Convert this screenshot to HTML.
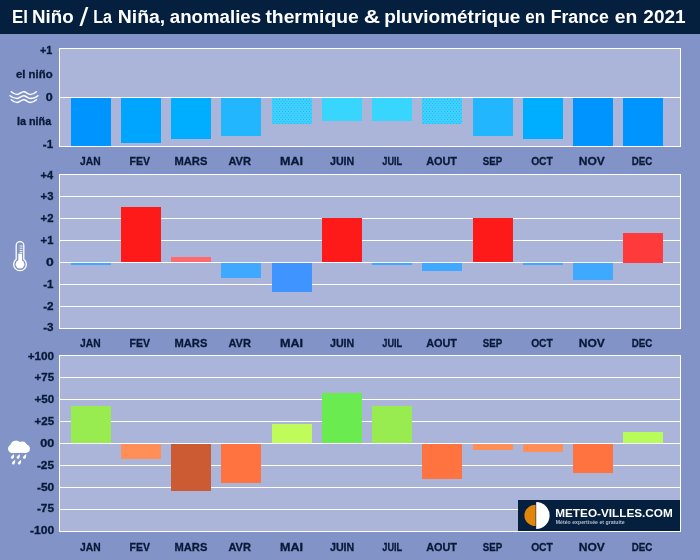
<!DOCTYPE html>
<html lang="fr"><head><meta charset="utf-8"><title>El Niño / La Niña 2021</title>
<style>html,body{margin:0;padding:0;background:#8294c7;overflow:hidden}svg{display:block}text{font-family:"Liberation Sans", sans-serif;font-weight:700}.l{stroke:#081a38;stroke-width:.3px}</style>
</head><body>
<svg width="700" height="560" viewBox="0 0 700 560">
<defs><pattern id="dots" x="272" y="98" width="3" height="4" patternUnits="userSpaceOnUse"><rect width="3" height="4" fill="#3bd4ff"/><circle cx="1.5" cy="1.5" r="0.5" fill="#3d84ee" fill-opacity=".7"/><circle cx="3" cy="3.5" r="0.5" fill="#3d84ee" fill-opacity=".7"/><circle cx="0" cy="3.5" r="0.5" fill="#3d84ee" fill-opacity=".7"/></pattern></defs>
<rect width="700" height="560" fill="#8294c7"/>
<rect width="700" height="34" fill="#05203f"/>
<g>
<text x="11.90" y="22.60" font-size="18.75" fill="#fff" textLength="15.98" lengthAdjust="spacingAndGlyphs">El</text>
<text x="32.08" y="22.60" font-size="18.75" fill="#fff" textLength="41.65" lengthAdjust="spacingAndGlyphs">Niño</text>
<text x="79.50" y="26.00" font-size="25.4" fill="#fff" textLength="8.83" lengthAdjust="spacingAndGlyphs" style="font-weight:400">/</text>
<text x="93.26" y="22.60" font-size="18.75" fill="#fff" textLength="18.76" lengthAdjust="spacingAndGlyphs">La</text>
<text x="117.74" y="22.60" font-size="18.75" fill="#fff" textLength="47.42" lengthAdjust="spacingAndGlyphs">Niña,</text>
<text x="169.79" y="22.60" font-size="18.75" fill="#fff" textLength="91.34" lengthAdjust="spacingAndGlyphs">anomalies</text>
<text x="265.41" y="22.60" font-size="18.75" fill="#fff" textLength="93.35" lengthAdjust="spacingAndGlyphs">thermique</text>
<text x="363.74" y="22.60" font-size="18.75" fill="#fff" textLength="16.33" lengthAdjust="spacingAndGlyphs">&amp;</text>
<text x="384.16" y="22.60" font-size="18.75" fill="#fff" textLength="136.26" lengthAdjust="spacingAndGlyphs">pluviométrique</text>
<text x="525.36" y="22.60" font-size="18.75" fill="#fff" textLength="19.90" lengthAdjust="spacingAndGlyphs">en</text>
<text x="550.65" y="22.60" font-size="18.75" fill="#fff" textLength="58.16" lengthAdjust="spacingAndGlyphs">France</text>
<text x="614.68" y="22.60" font-size="18.75" fill="#fff" textLength="22.52" lengthAdjust="spacingAndGlyphs">en</text>
<text x="643.38" y="22.60" font-size="18.75" fill="#fff" textLength="42.23" lengthAdjust="spacingAndGlyphs">2021</text>
</g>
<rect x="59.5" y="48.5" width="621" height="98" fill="#aab5d9" stroke="#fff" stroke-width="1"/>
<rect x="71" y="98" width="40" height="48" fill="#0094ff"/>
<rect x="121" y="98" width="40" height="45" fill="#00a5ff"/>
<rect x="171" y="98" width="40" height="41" fill="#00aeff"/>
<rect x="221" y="98" width="40" height="38" fill="#22b6ff"/>
<rect x="272" y="98" width="40" height="26" fill="url(#dots)"/>
<rect x="322" y="98" width="40" height="23" fill="#38d5ff"/>
<rect x="372" y="98" width="40" height="23" fill="#38d5ff"/>
<rect x="422" y="98" width="40" height="26" fill="url(#dots)"/>
<rect x="473" y="98" width="40" height="38" fill="#22b6ff"/>
<rect x="523" y="98" width="40" height="41" fill="#00aeff"/>
<rect x="573" y="98" width="40" height="48" fill="#0094ff"/>
<rect x="623" y="98" width="40" height="48" fill="#0094ff"/>
<rect x="60" y="97" width="620" height="1" fill="#fff"/>
<rect x="59.5" y="48.5" width="621" height="98" fill="none" stroke="#fff" stroke-width="1"/>
<text x="80.00" y="165.00" font-size="11.3" fill="#081a38" textLength="20.55" lengthAdjust="spacingAndGlyphs" class="l">JAN</text>
<text x="129.47" y="165.00" font-size="11.3" fill="#081a38" textLength="20.43" lengthAdjust="spacingAndGlyphs" class="l">FEV</text>
<text x="174.53" y="165.00" font-size="11.3" fill="#081a38" textLength="32.84" lengthAdjust="spacingAndGlyphs" class="l">MARS</text>
<text x="228.47" y="165.00" font-size="11.3" fill="#081a38" textLength="22.49" lengthAdjust="spacingAndGlyphs" class="l">AVR</text>
<text x="279.93" y="165.00" font-size="11.3" fill="#081a38" textLength="23.04" lengthAdjust="spacingAndGlyphs" class="l">MAI</text>
<text x="329.99" y="165.00" font-size="11.3" fill="#081a38" textLength="24.29" lengthAdjust="spacingAndGlyphs" class="l">JUIN</text>
<text x="382.31" y="165.00" font-size="11.3" fill="#081a38" textLength="19.81" lengthAdjust="spacingAndGlyphs" class="l">JUIL</text>
<text x="426.18" y="165.00" font-size="11.3" fill="#081a38" textLength="30.86" lengthAdjust="spacingAndGlyphs" class="l">AOUT</text>
<text x="482.78" y="165.00" font-size="11.3" fill="#081a38" textLength="19.37" lengthAdjust="spacingAndGlyphs" class="l">SEP</text>
<text x="531.14" y="165.00" font-size="11.3" fill="#081a38" textLength="21.70" lengthAdjust="spacingAndGlyphs" class="l">OCT</text>
<text x="578.77" y="165.00" font-size="11.3" fill="#081a38" textLength="26.04" lengthAdjust="spacingAndGlyphs" class="l">NOV</text>
<text x="631.82" y="165.00" font-size="11.3" fill="#081a38" textLength="20.59" lengthAdjust="spacingAndGlyphs" class="l">DEC</text>
<text x="39.91" y="54.00" font-size="10.6" fill="#081a38" textLength="12.41" lengthAdjust="spacingAndGlyphs" class="l">+1</text>
<text x="16.02" y="78.00" font-size="10.6" fill="#081a38" textLength="36.55" lengthAdjust="spacingAndGlyphs" class="l">el niño</text>
<text x="45.88" y="101.00" font-size="10.6" fill="#081a38" textLength="6.95" lengthAdjust="spacingAndGlyphs" class="l">0</text>
<text x="16.92" y="125.00" font-size="10.6" fill="#081a38" textLength="34.35" lengthAdjust="spacingAndGlyphs" class="l">la niña</text>
<text x="42.82" y="148.00" font-size="10.6" fill="#081a38" textLength="10.24" lengthAdjust="spacingAndGlyphs" class="l">-1</text>
<path d="M11.3 91.7 C13.3 93.5 15 94.4 17.3 94.4 S21 91.8 23.7 91.8 S27.5 94.4 30.2 94.4 S34.4 93.5 36.4 91.7" fill="none" stroke="#fff" stroke-width="1.5" stroke-linecap="round"/>
<path d="M10.1 95.7 C12.1 97.5 15 98.4 17.3 98.4 S21 95.8 23.7 95.8 S27.5 98.4 30.2 98.4 S35.9 97.5 37.9 95.7" fill="none" stroke="#fff" stroke-width="1.5" stroke-linecap="round"/>
<path d="M11.3 99.7 C13.3 101.5 15 102.4 17.3 102.4 S21 99.8 23.7 99.8 S27.5 102.4 30.2 102.4 S34.4 101.5 36.4 99.7" fill="none" stroke="#fff" stroke-width="1.5" stroke-linecap="round"/>
<rect x="59.5" y="174.5" width="621" height="154" fill="#aab5d9" stroke="#fff" stroke-width="1"/>
<rect x="60" y="196" width="620" height="1" fill="#fff"/>
<rect x="60" y="218" width="620" height="1" fill="#fff"/>
<rect x="60" y="240" width="620" height="1" fill="#fff"/>
<rect x="60" y="262" width="620" height="1" fill="#fff"/>
<rect x="60" y="284" width="620" height="1" fill="#fff"/>
<rect x="60" y="306" width="620" height="1" fill="#fff"/>
<rect x="71" y="263" width="40" height="2" fill="#3fa9ff"/>
<rect x="121" y="207" width="40" height="55" fill="#ff1a1a"/>
<rect x="171" y="257" width="40" height="5" fill="#ff6b6b"/>
<rect x="221" y="263" width="40" height="15" fill="#3fa9ff"/>
<rect x="272" y="263" width="40" height="29" fill="#3f94ff"/>
<rect x="322" y="218" width="40" height="44" fill="#ff1a1a"/>
<rect x="372" y="263" width="40" height="2" fill="#3fa9ff"/>
<rect x="422" y="263" width="40" height="8" fill="#3fa9ff"/>
<rect x="473" y="218" width="40" height="44" fill="#ff1a1a"/>
<rect x="523" y="263" width="40" height="2" fill="#3fa9ff"/>
<rect x="573" y="263" width="40" height="17" fill="#3fa9ff"/>
<rect x="623" y="233" width="40" height="30" fill="#ff3a3a"/>
<text x="80.00" y="347.00" font-size="11.3" fill="#081a38" textLength="20.55" lengthAdjust="spacingAndGlyphs" class="l">JAN</text>
<text x="129.47" y="347.00" font-size="11.3" fill="#081a38" textLength="20.43" lengthAdjust="spacingAndGlyphs" class="l">FEV</text>
<text x="174.53" y="347.00" font-size="11.3" fill="#081a38" textLength="32.84" lengthAdjust="spacingAndGlyphs" class="l">MARS</text>
<text x="228.47" y="347.00" font-size="11.3" fill="#081a38" textLength="22.49" lengthAdjust="spacingAndGlyphs" class="l">AVR</text>
<text x="279.93" y="347.00" font-size="11.3" fill="#081a38" textLength="23.04" lengthAdjust="spacingAndGlyphs" class="l">MAI</text>
<text x="329.99" y="347.00" font-size="11.3" fill="#081a38" textLength="24.29" lengthAdjust="spacingAndGlyphs" class="l">JUIN</text>
<text x="382.31" y="347.00" font-size="11.3" fill="#081a38" textLength="19.81" lengthAdjust="spacingAndGlyphs" class="l">JUIL</text>
<text x="426.18" y="347.00" font-size="11.3" fill="#081a38" textLength="30.86" lengthAdjust="spacingAndGlyphs" class="l">AOUT</text>
<text x="482.78" y="347.00" font-size="11.3" fill="#081a38" textLength="19.37" lengthAdjust="spacingAndGlyphs" class="l">SEP</text>
<text x="531.14" y="347.00" font-size="11.3" fill="#081a38" textLength="21.70" lengthAdjust="spacingAndGlyphs" class="l">OCT</text>
<text x="578.77" y="347.00" font-size="11.3" fill="#081a38" textLength="26.04" lengthAdjust="spacingAndGlyphs" class="l">NOV</text>
<text x="631.82" y="347.00" font-size="11.3" fill="#081a38" textLength="20.59" lengthAdjust="spacingAndGlyphs" class="l">DEC</text>
<text x="40.61" y="179.00" font-size="10.6" fill="#081a38" textLength="12.57" lengthAdjust="spacingAndGlyphs" class="l">+4</text>
<text x="40.60" y="200.00" font-size="10.6" fill="#081a38" textLength="12.92" lengthAdjust="spacingAndGlyphs" class="l">+3</text>
<text x="40.59" y="222.00" font-size="10.6" fill="#081a38" textLength="12.98" lengthAdjust="spacingAndGlyphs" class="l">+2</text>
<text x="40.60" y="244.00" font-size="10.6" fill="#081a38" textLength="12.83" lengthAdjust="spacingAndGlyphs" class="l">+1</text>
<text x="45.93" y="266.00" font-size="10.6" fill="#081a38" textLength="7.76" lengthAdjust="spacingAndGlyphs" class="l">0</text>
<text x="43.22" y="288.00" font-size="10.6" fill="#081a38" textLength="10.24" lengthAdjust="spacingAndGlyphs" class="l">-1</text>
<text x="43.21" y="310.00" font-size="10.6" fill="#081a38" textLength="10.40" lengthAdjust="spacingAndGlyphs" class="l">-2</text>
<text x="43.21" y="331.00" font-size="10.6" fill="#081a38" textLength="10.33" lengthAdjust="spacingAndGlyphs" class="l">-3</text>
<path d="M16.2 259.3 V245.4 a3.8 3.8 0 0 1 7.6 0 V259.3 a6.3 6.3 0 1 1 -7.6 0z" fill="none" stroke="#fff" stroke-width="1.3"/>
<circle cx="20" cy="264.3" r="4.3" fill="#fff"/><rect x="18.3" y="253.6" width="3.8" height="9" fill="#fff"/>
<path d="M19.6 246h2.9 M19.6 248.2h2.9 M19.6 250.4h2.9 M19.6 252.4h2.9" stroke="#fff" stroke-width="0.9"/>
<rect x="59.5" y="355.5" width="621" height="176" fill="#aab5d9" stroke="#fff" stroke-width="1"/>
<rect x="60" y="377" width="620" height="1" fill="#fff"/>
<rect x="60" y="399" width="620" height="1" fill="#fff"/>
<rect x="60" y="421" width="620" height="1" fill="#fff"/>
<rect x="60" y="443" width="620" height="1" fill="#fff"/>
<rect x="60" y="465" width="620" height="1" fill="#fff"/>
<rect x="60" y="487" width="620" height="1" fill="#fff"/>
<rect x="60" y="509" width="620" height="1" fill="#fff"/>
<rect x="71" y="406" width="40" height="37" fill="#99ec4f"/>
<rect x="121" y="444" width="40" height="15" fill="#ff8f57"/>
<rect x="171" y="444" width="40" height="47" fill="#cc5a33"/>
<rect x="221" y="444" width="40" height="39" fill="#ff7340"/>
<rect x="272" y="424" width="40" height="19" fill="#bffc59"/>
<rect x="322" y="393" width="40" height="50" fill="#6aec50"/>
<rect x="372" y="406" width="40" height="37" fill="#99ec4f"/>
<rect x="422" y="444" width="40" height="35" fill="#ff7340"/>
<rect x="473" y="444" width="40" height="6" fill="#ff8f57"/>
<rect x="523" y="444" width="40" height="8" fill="#ff8f57"/>
<rect x="573" y="444" width="40" height="29" fill="#ff7340"/>
<rect x="623" y="432" width="40" height="11" fill="#b8fc59"/>
<text x="80.00" y="551.00" font-size="11.3" fill="#081a38" textLength="20.55" lengthAdjust="spacingAndGlyphs" class="l">JAN</text>
<text x="129.47" y="551.00" font-size="11.3" fill="#081a38" textLength="20.43" lengthAdjust="spacingAndGlyphs" class="l">FEV</text>
<text x="174.53" y="551.00" font-size="11.3" fill="#081a38" textLength="32.84" lengthAdjust="spacingAndGlyphs" class="l">MARS</text>
<text x="228.47" y="551.00" font-size="11.3" fill="#081a38" textLength="22.49" lengthAdjust="spacingAndGlyphs" class="l">AVR</text>
<text x="279.93" y="551.00" font-size="11.3" fill="#081a38" textLength="23.04" lengthAdjust="spacingAndGlyphs" class="l">MAI</text>
<text x="329.99" y="551.00" font-size="11.3" fill="#081a38" textLength="24.29" lengthAdjust="spacingAndGlyphs" class="l">JUIN</text>
<text x="382.31" y="551.00" font-size="11.3" fill="#081a38" textLength="19.81" lengthAdjust="spacingAndGlyphs" class="l">JUIL</text>
<text x="426.18" y="551.00" font-size="11.3" fill="#081a38" textLength="30.86" lengthAdjust="spacingAndGlyphs" class="l">AOUT</text>
<text x="482.78" y="551.00" font-size="11.3" fill="#081a38" textLength="19.37" lengthAdjust="spacingAndGlyphs" class="l">SEP</text>
<text x="531.14" y="551.00" font-size="11.3" fill="#081a38" textLength="21.70" lengthAdjust="spacingAndGlyphs" class="l">OCT</text>
<text x="578.77" y="551.00" font-size="11.3" fill="#081a38" textLength="26.04" lengthAdjust="spacingAndGlyphs" class="l">NOV</text>
<text x="631.82" y="551.00" font-size="11.3" fill="#081a38" textLength="20.59" lengthAdjust="spacingAndGlyphs" class="l">DEC</text>
<text x="27.68" y="360.00" font-size="10.6" fill="#081a38" textLength="26.51" lengthAdjust="spacingAndGlyphs" class="l">+100</text>
<text x="34.49" y="381.00" font-size="10.6" fill="#081a38" textLength="19.57" lengthAdjust="spacingAndGlyphs" class="l">+75</text>
<text x="34.49" y="403.00" font-size="10.6" fill="#081a38" textLength="19.72" lengthAdjust="spacingAndGlyphs" class="l">+50</text>
<text x="34.49" y="425.00" font-size="10.6" fill="#081a38" textLength="19.57" lengthAdjust="spacingAndGlyphs" class="l">+25</text>
<text x="40.18" y="447.00" font-size="10.6" fill="#081a38" textLength="14.08" lengthAdjust="spacingAndGlyphs" class="l">00</text>
<text x="36.91" y="469.00" font-size="10.6" fill="#081a38" textLength="17.15" lengthAdjust="spacingAndGlyphs" class="l">-25</text>
<text x="36.90" y="491.00" font-size="10.6" fill="#081a38" textLength="17.30" lengthAdjust="spacingAndGlyphs" class="l">-50</text>
<text x="36.91" y="512.00" font-size="10.6" fill="#081a38" textLength="17.15" lengthAdjust="spacingAndGlyphs" class="l">-75</text>
<text x="30.00" y="534.00" font-size="10.6" fill="#081a38" textLength="24.23" lengthAdjust="spacingAndGlyphs" class="l">-100</text>
<g fill="#fff"><circle cx="12.2" cy="448.7" r="4.2"/><circle cx="16" cy="446" r="5.6"/><circle cx="22.3" cy="446.5" r="5"/><circle cx="25.8" cy="448.8" r="4.1"/><rect x="12.2" y="447" width="13.6" height="5.9"/>
<path d="M14.1 454.1 Q14.4 457.2 13.2 458.5 A1.7 1.7 0 0 1 10.8 457.2 Q11.4 455.8 14.1 454.1 z"/>
<path d="M19.8 454.1 Q20.1 457.2 18.9 458.5 A1.7 1.7 0 0 1 16.5 457.2 Q17.1 455.8 19.8 454.1 z"/>
<path d="M26.2 454.1 Q26.5 457.2 25.3 458.5 A1.7 1.7 0 0 1 22.9 457.2 Q23.5 455.8 26.2 454.1 z"/>
<path d="M15.2 459.8 Q15.5 462.9 14.3 464.2 A1.7 1.7 0 0 1 11.9 462.9 Q12.5 461.5 15.2 459.8 z"/>
<path d="M21.1 459.8 Q21.4 462.9 20.2 464.2 A1.7 1.7 0 0 1 17.8 462.9 Q18.4 461.5 21.1 459.8 z"/>
</g>
<rect x="518" y="500" width="162" height="31" fill="#05203f"/>
<path d="M535.6 504.8 a11.2 10.6 0 0 0 0 21.2z" fill="#e0860b"/>
<path d="M536.2 502.1 a13.4 13.4 0 0 1 0 26.8z" fill="#fff"/>
<text x="555.24" y="516.90" font-size="11.6" fill="#fff" textLength="117.53" lengthAdjust="spacingAndGlyphs">METEO-VILLES.COM</text>
<text x="555.66" y="524.30" font-size="5.2" fill="#b4bcd0" textLength="68.92" lengthAdjust="spacingAndGlyphs">Météo expertisée et gratuite</text>
</svg></body></html>
